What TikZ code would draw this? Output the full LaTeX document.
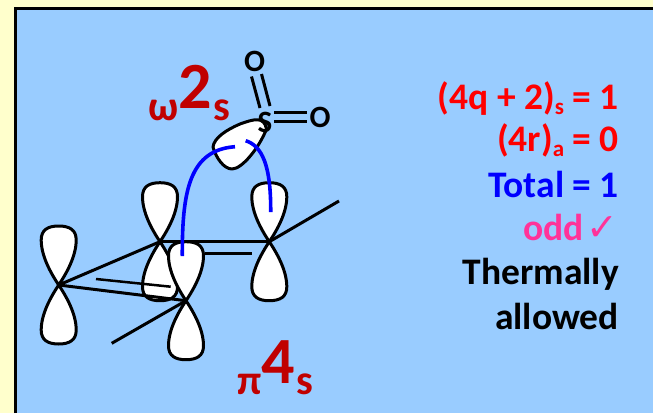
\documentclass[tikz,border=0pt]{standalone}
\usepackage{fontspec}
\setmainfont{Carlito}[BoldFont={Carlito Bold}]
\newfontfamily\symfont{DejaVu Sans}
\definecolor{panelblue}{HTML}{99CCFF}
\definecolor{pagecream}{HTML}{FFFFCC}
\definecolor{darkred}{HTML}{C00000}
\definecolor{hotpink}{HTML}{FF3399}
\newcommand{\fs}[1]{\fontsize{#1}{#1}\selectfont}
\newcommand{\subtext}[1]{\raisebox{-5pt}{\fs{23}#1}}
\tikzset{
  x=1pt,y=-1pt,
  lobeline/.style={draw=black,fill=white,line width=3pt,line join=round},
  bond/.style={draw=black,line width=3pt},
  thinbond/.style={draw=black,line width=2.5pt},
  overlap/.style={draw=blue,line width=3.6pt},
  atom/.style={font=\fs{31}\bfseries,inner sep=0pt,text=black},
  greek/.style={font=\fs{42}\bfseries,inner sep=0pt,text=darkred},
  bigdigit/.style={font=\fs{66}\bfseries,inner sep=0pt,text=darkred},
  count/.style={font=\fs{37.5}\bfseries,inner sep=0pt,anchor=base east},
  porbital/.pic={
    \path[lobeline] (0,0) .. controls (-8,-12) and (-17.5,-29) .. (-17.5,-45)
      .. controls (-17.5,-55) and (-11,-59) .. (0,-59)
      .. controls (11,-59) and (17.5,-55) .. (17.5,-45)
      .. controls (17.5,-29) and (8,-12) .. (0,0) -- cycle;
    \path[lobeline] (0,0) .. controls (-8,12) and (-17.5,29) .. (-17.5,45)
      .. controls (-17.5,55) and (-11,59) .. (0,59)
      .. controls (11,59) and (17.5,55) .. (17.5,45)
      .. controls (17.5,29) and (8,12) .. (0,0) -- cycle;
  }
}
\begin{document}
\begin{tikzpicture}
\useasboundingbox (0,0) rectangle (653,413);
\fill[pagecream] (0,0) rectangle (653,413);
\fill[panelblue] (15.5,8.5) rectangle (653,413);
\draw[black,line width=2.8pt] (15.5,413) -- (15.5,8.5) -- (653,8.5);

\coordinate (cA) at (58.7,285);
\coordinate (cB) at (160,241.7);
\coordinate (cC) at (186,300.7);
\coordinate (cD) at (269.3,241.7);
\coordinate (endD) at (339,201);
\coordinate (endC) at (111.7,343.3);
\coordinate (hA) at (96,279);
\coordinate (hB) at (170.7,286.7);
\coordinate (hC) at (205,253.3);
\coordinate (hD) at (251.7,253.3);

\pic at (cA) {porbital};
\pic at (cB) {porbital};
\pic at (cD) {porbital};
\draw[bond] (cA) -- (cB);
\draw[bond] (cB) -- (cD);
\draw[bond] (cD) -- (endD);
\draw[bond] (cA) -- (cC);
\draw[thinbond] (hA) -- (hB);
\pic at (cC) {porbital};
\draw[bond] (cC) -- (endC);
\draw[thinbond] (hC) -- (hD);

% sulfonyl lobe
\path[lobeline] (266.5,129) .. controls (264,116) and (254,119) .. (240,124)
  .. controls (226,130) and (214,138) .. (213,147)
  .. controls (216,158) and (224,169) .. (232,169)
  .. controls (242,169) and (259,148) .. (266.5,129) -- cycle;

\node[atom] (sulfur) at (265,122) {S};
\node[atom] (oxyA) at (254.5,61.5) {O};
\node[atom] (oxyB) at (320,117) {O};
\draw[bond] (251.5,76.5) -- (260,108);
\draw[bond] (261.5,74) -- (270,106);
\draw[bond] (274,112) -- (307,112);
\draw[bond] (274,121.7) -- (307,121.7);

\coordinate (blA) at (182.3,256);
\coordinate (blB) at (235,146.7);
\coordinate (blC) at (245.7,140.7);
\coordinate (blD) at (270.7,212);
\draw[overlap] (blA) .. controls (182,190) and (190,150) .. (blB);
\draw[overlap] (blC) .. controls (262,146) and (271,165) .. (blD);

\node[greek] (omega) at (164,110) {ω};
\node[bigdigit] (two) at (195.7,87) {2};
\node[greek] (sA) at (221.5,110) {s};
\node[greek] (piN) at (250,384) {π};
\node[bigdigit] (four) at (278.5,362) {4};
\node[greek] (sB) at (304.5,384) {s};

\node[count,text=red] (l1) at (619,109.5) {(4q + 2)\subtext{s} = 1};
\node[count,text=red] (l2) at (619,151.5) {(4r)\subtext{a} = 0};
\node[count,text=blue] (l3) at (619,197.5) {Total = 1};
\node[count,text=hotpink] (l4) at (619,240) {odd\hspace{3pt}{\symfont\fs{38}✓}};
\node[count,text=black] (l5) at (619,284) {Thermally};
\node[count,text=black] (l6) at (619,329) {allowed};
\end{tikzpicture}
\end{document}
